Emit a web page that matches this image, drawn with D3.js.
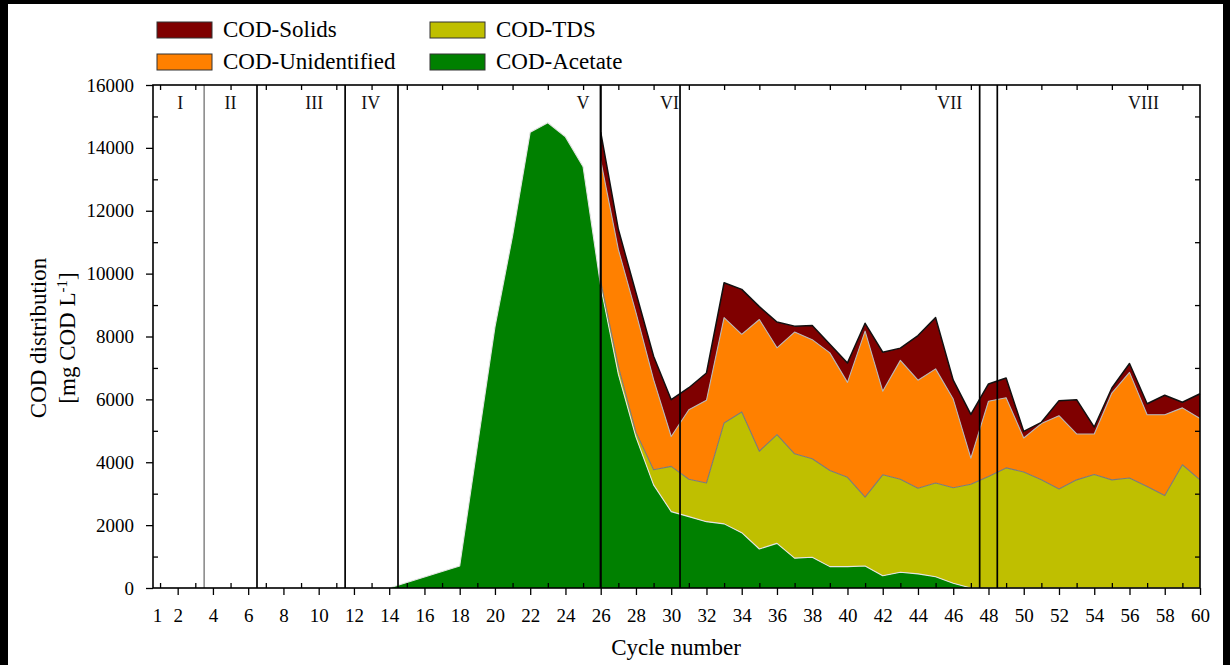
<!DOCTYPE html>
<html>
<head>
<meta charset="utf-8">
<script src="https://cdn.jsdelivr.net/npm/d3@7"></script>
<style>
  html, body { margin: 0; padding: 0; background: #fff; }
  svg { display: block; font-family: "Liberation Serif", "Times New Roman", serif; }
</style>
</head>
<body>
<svg id="chart" width="1230" height="665"></svg>
<script>
// Operating cycles 1..60
const cycles = d3.range(1, 61);

// COD fractions per cycle, mg COD/L (null = not measured)
const acetate = [
  0, 0, 0, 0, 0, 0, 0, 0, 0, 0, 0, 0, 0, 0,
  null, null, null,
  700, 4500, 8300, 11200, 14500, 14800, 14350, 13400,
  9600, 6800, 4800, 3280, 2430, 2270, 2110, 2040, 1760, 1240, 1420,
  950, 980, 680, 680, 700, 390, 500, 450, 360, 150, 0,
  0, 0, 0, 0, 0, 0, 0, 0, 0, 0, 0, 0, 0
];
const tds = [
  ...Array(25).fill(null),
  150, 250, 150, 480, 1440, 1190, 1230, 3210, 3840, 3110, 3460,
  3320, 3130, 3060, 2840, 2190, 3210, 2960, 2720, 2980, 3040, 3300,
  3550, 3820, 3690, 3440, 3150, 3440, 3610, 3440, 3500, 3230, 2940, 3920, 3440
];
const unidentified = [
  ...Array(25).fill(null),
  3850, 3720, 3810, 2870, 950, 2210, 2630, 3350, 2470, 4190, 2760,
  3870, 3790, 3740, 3020, 5280, 2660, 3780, 3440, 3630, 2820, 830,
  2390, 2230, 1080, 1790, 2330, 1460, 1290, 2760, 3360, 2280, 2570, 1810, 1950
];
const solids = [
  ...Array(25).fill(null),
  900, 640, 630, 740, 1170, 700, 870, 1110, 1430, 410, 820,
  190, 450, 270, 620, 250, 1240, 390, 1420, 1630, 600, 1390,
  550, 630, 210, 40, 480, 1090, 220, 160, 280, 350, 620, 180, 790
];

// Operating phases: boundaries (in cycles) and their labels
const phaseBounds = [3.5, 6.5, 11.5, 14.5, 26, 30.5, 47.5, 48.5];
const phaseNames = ["I", "II", "III", "IV", "V", "VI", "VII", "VIII"];
const phaseLabelCycle = [2.15, 5.0, 9.75, 12.95, 25.0, 29.9, 45.8, 56.8];

// Axis ticks
const xTickLabels = [1, ...d3.range(2, 61, 2)];
const yTickLabels = d3.range(0, 16001, 2000);

const series = [
  { key: "acetate",      name: "COD-Acetate",      values: acetate,      fill: "#008000", edge: "#e4e4e4" },
  { key: "tds",          name: "COD-TDS",          values: tds,          fill: "#bfbf00", edge: "#7a7a7a" },
  { key: "unidentified", name: "COD-Unidentified", values: unidentified, fill: "#ff8000", edge: "#b8b8b8" },
  { key: "solids",       name: "COD-Solids",       values: solids,       fill: "#7f0000", edge: "#111111" }
];

const svg = d3.select("#chart");
const W = 1230, H = 665;
const plot = { left: 153, right: 1200, top: 85, bottom: 588 };

svg.append("rect").attr("width", W).attr("height", H).attr("fill", "#fff");

const x = d3.scaleLinear().domain([0.6, 60]).range([plot.left, plot.right]);
const y = d3.scaleLinear().domain([0, 16000]).range([plot.bottom, plot.top]);

// Stack the four fractions
const rows = cycles.map((c, i) => {
  const r = { cycle: c };
  series.forEach(s => { r[s.key] = s.values[i] == null ? 0 : s.values[i]; });
  return r;
});
const layers = d3.stack().keys(series.map(s => s.key))(rows);

const area = d3.area()
  .x(p => x(p.data.cycle))
  .y0(p => y(p[0]))
  .y1(p => y(p[1]));
const topLine = d3.line()
  .x(p => x(p.data.cycle))
  .y(p => y(p[1]));

const gAreas = svg.append("g");
layers.forEach((layer, li) => {
  const s = series[li];
  const pts = layer.filter((p, i) => s.values[i] != null);
  gAreas.append("path").attr("d", area(pts)).attr("fill", s.fill).attr("stroke", "none");
});
layers.forEach((layer, li) => {
  const s = series[li];
  const pts = layer.filter((p, i) => s.values[i] != null);
  gAreas.append("path").attr("d", topLine(pts))
    .attr("fill", "none")
    .attr("stroke", s.edge)
    .attr("stroke-width", li === 3 ? 1.5 : 1.1)
    .attr("stroke-linejoin", "round");
});

// Phase boundaries
svg.append("g").selectAll("line").data(phaseBounds).join("line")
  .attr("x1", d => x(d)).attr("x2", d => x(d))
  .attr("y1", plot.top).attr("y2", plot.bottom)
  .attr("stroke", (d, i) => i === 0 ? "#666" : "#000")
  .attr("stroke-width", (d, i) => i === 0 ? 1.2 : (d === 26 ? 2.2 : 1.7));

svg.append("g").selectAll("text").data(phaseNames).join("text")
  .attr("x", (d, i) => x(phaseLabelCycle[i]))
  .attr("y", 109)
  .attr("text-anchor", "middle")
  .attr("font-size", 18)
  .attr("fill", "#111")
  .text(d => d);

// Axes
function styleAxis(g) {
  g.select(".domain").remove();
  g.selectAll(".tick line").attr("stroke", "#000").attr("stroke-width", 1.3);
  g.selectAll(".tick text").attr("font-size", 19).attr("fill", "#000")
    .attr("font-family", "'Liberation Serif','Times New Roman',serif");
}

const xMajor = svg.append("g").attr("transform", `translate(0,${plot.bottom})`)
  .call(d3.axisBottom(x).tickValues(xTickLabels).tickSize(7).tickPadding(14).tickFormat(d3.format("d")))
  .call(styleAxis);
xMajor.selectAll(".tick").filter(d => d === 1).select("line").remove();
xMajor.selectAll(".tick").filter(d => d === 1).select("text").attr("dx", -3);

svg.append("g").attr("transform", `translate(0,${plot.bottom})`)
  .call(d3.axisBottom(x).tickValues(d3.range(1, 60, 2)).tickSize(-5).tickFormat(""))
  .call(styleAxis);
svg.append("g").attr("transform", `translate(0,${plot.top})`)
  .call(d3.axisTop(x).tickValues(d3.range(1, 60, 2)).tickSize(-5).tickFormat(""))
  .call(styleAxis);

svg.append("g").attr("transform", `translate(${plot.left},0)`)
  .call(d3.axisLeft(y).tickValues(yTickLabels).tickSize(7).tickPadding(12).tickFormat(d3.format("d")))
  .call(styleAxis);
svg.append("g").attr("transform", `translate(${plot.left},0)`)
  .call(d3.axisLeft(y).tickValues(d3.range(1000, 16000, 2000)).tickSize(-5).tickFormat(""))
  .call(styleAxis);
svg.append("g").attr("transform", `translate(${plot.right},0)`)
  .call(d3.axisRight(y).tickValues(d3.range(1000, 16000, 2000)).tickSize(-5).tickFormat(""))
  .call(styleAxis);

// Plot frame
svg.append("rect")
  .attr("x", plot.left).attr("y", plot.top)
  .attr("width", plot.right - plot.left).attr("height", plot.bottom - plot.top)
  .attr("fill", "none").attr("stroke", "#000").attr("stroke-width", 1.6);

// Axis titles
svg.append("text")
  .attr("x", 676).attr("y", 655)
  .attr("text-anchor", "middle").attr("font-size", 23).attr("fill", "#000")
  .text("Cycle number");

const yTitle = svg.append("g").attr("transform", "translate(0,338) rotate(-90)");
yTitle.append("text").attr("x", 0).attr("y", 46)
  .attr("text-anchor", "middle").attr("font-size", 23).attr("fill", "#000")
  .text("COD distribution");
const t2 = yTitle.append("text").attr("x", 0).attr("y", 75)
  .attr("text-anchor", "middle").attr("font-size", 23).attr("fill", "#000");
t2.append("tspan").text("[mg COD L");
t2.append("tspan").attr("baseline-shift", "super").attr("font-size", 15).text("-1");
t2.append("tspan").text("]");

// Legend
const legendItems = [
  { s: series[3], x: 157, y: 22 },
  { s: series[2], x: 157, y: 54 },
  { s: series[1], x: 430, y: 22 },
  { s: series[0], x: 430, y: 54 }
];
const lg = svg.append("g").selectAll("g").data(legendItems).join("g")
  .attr("transform", d => `translate(${d.x},${d.y})`);
lg.append("rect").attr("width", 55).attr("height", 16)
  .attr("fill", d => d.s.fill).attr("stroke", "#333").attr("stroke-width", 1);
lg.append("text").attr("x", 66).attr("y", 15)
  .attr("font-size", 23).attr("fill", "#000")
  .text(d => d.s.name);

// Outer border
svg.append("rect").attr("x", 0).attr("y", 0).attr("width", 8).attr("height", H).attr("fill", "#000");
svg.append("rect").attr("x", 1223).attr("y", 0).attr("width", 7).attr("height", H).attr("fill", "#000");
svg.append("rect").attr("x", 0).attr("y", 0).attr("width", W).attr("height", 4).attr("fill", "#000");
</script>
</body>
</html>
